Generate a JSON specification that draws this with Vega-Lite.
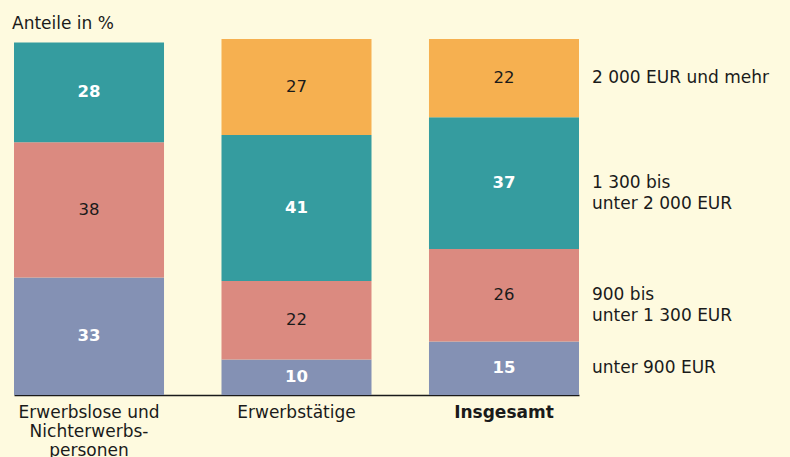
{
  "$schema": "https://vega.github.io/schema/vega-lite/v6.json",
  "autosize": {"type": "none"},
  "width": 565,
  "height": 356,
  "padding": {"left": 14, "top": 39, "right": 211, "bottom": 62},
  "background": "#FEFADF",
  "config": {
    "view": {"stroke": null},
    "font": "DejaVu Sans",
    "text": {"font": "DejaVu Sans"}
  },
  "title": {
    "text": "Anteile in %",
    "anchor": "start",
    "frame": "group",
    "font": "DejaVu Sans",
    "fontSize": 17,
    "fontWeight": "normal",
    "color": "#1a1a1a",
    "dx": -2,
    "offset": 6
  },
  "data": {
    "values": [
      {"gruppe": "Erwerbslose und|Nichterwerbs-|personen", "stufe": 1, "kategorie": "unter 900 EUR", "wert": 33},
      {"gruppe": "Erwerbslose und|Nichterwerbs-|personen", "stufe": 2, "kategorie": "900 bis\nunter 1 300 EUR", "wert": 38},
      {"gruppe": "Erwerbslose und|Nichterwerbs-|personen", "stufe": 3, "kategorie": "1 300 bis\nunter 2 000 EUR", "wert": 28},
      {"gruppe": "Erwerbstätige", "stufe": 1, "kategorie": "unter 900 EUR", "wert": 10},
      {"gruppe": "Erwerbstätige", "stufe": 2, "kategorie": "900 bis\nunter 1 300 EUR", "wert": 22},
      {"gruppe": "Erwerbstätige", "stufe": 3, "kategorie": "1 300 bis\nunter 2 000 EUR", "wert": 41},
      {"gruppe": "Erwerbstätige", "stufe": 4, "kategorie": "2 000 EUR und mehr", "wert": 27},
      {"gruppe": "Insgesamt", "stufe": 1, "kategorie": "unter 900 EUR", "wert": 15},
      {"gruppe": "Insgesamt", "stufe": 2, "kategorie": "900 bis\nunter 1 300 EUR", "wert": 26},
      {"gruppe": "Insgesamt", "stufe": 3, "kategorie": "1 300 bis\nunter 2 000 EUR", "wert": 37},
      {"gruppe": "Insgesamt", "stufe": 4, "kategorie": "2 000 EUR und mehr", "wert": 22}
    ]
  },
  "encoding": {
    "x": {
      "field": "gruppe",
      "type": "nominal",
      "sort": null,
      "scale": {"paddingInner": 0.277, "paddingOuter": 0},
      "axis": {
        "title": null,
        "labelAngle": 0,
        "ticks": false,
        "domainColor": "#1a1a1a",
        "domainWidth": 1.5,
        "labelColor": "#1a1a1a",
        "labelFont": "DejaVu Sans",
        "labelFontSize": 17,
        "labelPadding": 9,
        "labelLineHeight": 19,
        "labelBaseline": "top",
        "labelExpr": "split(datum.value, '|')",
        "labelFontWeight": {"condition": {"test": "datum.value == 'Insgesamt'", "value": "bold"}, "value": "normal"}
      }
    },
    "y": {
      "field": "wert",
      "type": "quantitative",
      "stack": "zero",
      "scale": {"domain": [0, 100], "nice": false},
      "axis": null
    },
    "order": {"field": "stufe", "type": "quantitative", "sort": "ascending"}
  },
  "layer": [
    {
      "mark": {"type": "bar"},
      "encoding": {
        "color": {
          "field": "stufe",
          "type": "ordinal",
          "scale": {"domain": [1, 2, 3, 4], "range": ["#8491B4", "#DB8A80", "#359C9F", "#F6B050"]},
          "legend": null
        }
      }
    },
    {
      "mark": {"type": "text", "color": "white", "fontWeight": "bold", "fontSize": 16.5, "baseline": "middle"},
      "encoding": {
        "y": {"field": "wert", "type": "quantitative", "stack": "zero", "bandPosition": 0.5},
        "text": {"condition": {"test": "datum.stufe == 1 || datum.stufe == 3", "field": "wert", "type": "quantitative"}, "value": ""}
      }
    },
    {
      "mark": {"type": "text", "color": "#1a1a1a", "fontWeight": "normal", "fontSize": 16.5, "baseline": "middle"},
      "encoding": {
        "y": {"field": "wert", "type": "quantitative", "stack": "zero", "bandPosition": 0.5},
        "text": {"condition": {"test": "datum.stufe == 2 || datum.stufe == 4", "field": "wert", "type": "quantitative"}, "value": ""}
      }
    },
    {
      "transform": [{"filter": "datum.gruppe == 'Insgesamt'"}],
      "mark": {"type": "text", "color": "#1a1a1a", "fontSize": 17, "align": "left", "baseline": "middle", "dx": 88, "lineBreak": "\n", "lineHeight": 21},
      "encoding": {
        "y": {"field": "wert", "type": "quantitative", "stack": "zero", "bandPosition": 0.5},
        "text": {"field": "kategorie", "type": "nominal"}
      }
    }
  ]
}
